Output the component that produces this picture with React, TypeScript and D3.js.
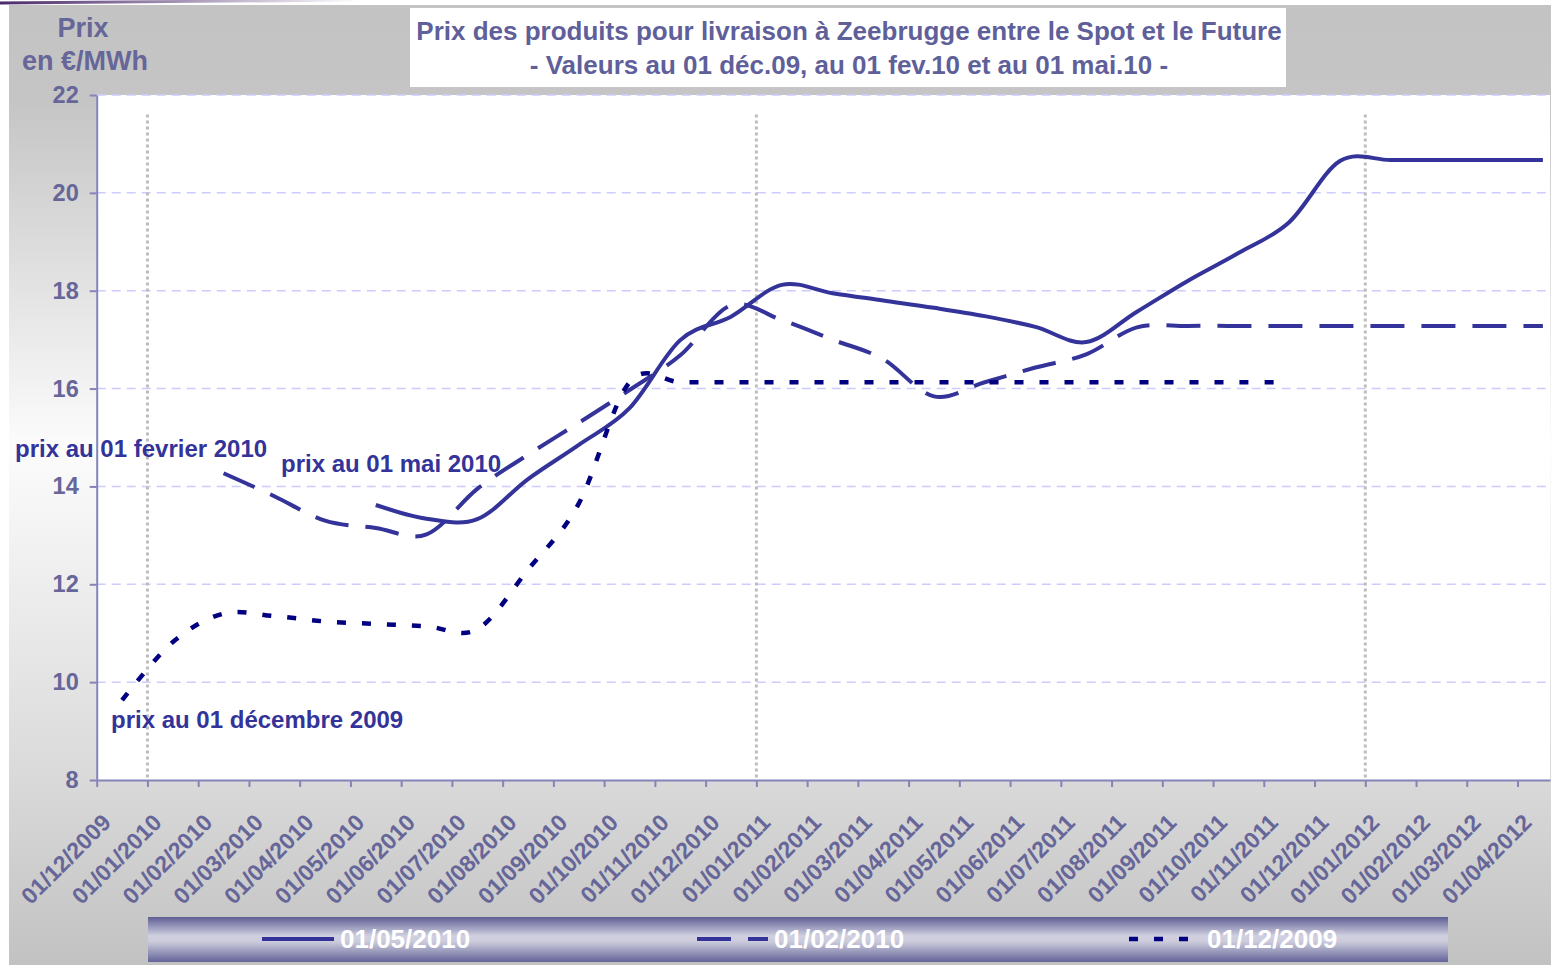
import * as d3 from "d3";
import { useEffect, useRef } from "react";

const W = 1551;
const H = 965;

// x axis categories (one per month)
const monthLabels = [
  "01/12/2009", "01/01/2010", "01/02/2010", "01/03/2010", "01/04/2010",
  "01/05/2010", "01/06/2010", "01/07/2010", "01/08/2010", "01/09/2010",
  "01/10/2010", "01/11/2010", "01/12/2010", "01/01/2011", "01/02/2011",
  "01/03/2011", "01/04/2011", "01/05/2011", "01/06/2011", "01/07/2011",
  "01/08/2011", "01/09/2011", "01/10/2011", "01/11/2011", "01/12/2011",
  "01/01/2012", "01/02/2012", "01/03/2012", "01/04/2012",
];
const yearMarks = ["01/01/2010", "01/01/2011", "01/01/2012"];
const yTicks = [8, 10, 12, 14, 16, 18, 20, 22];

// prices in €/MWh, one point per month, plotted at mid-month
const mai2010Start = 5.5;
const mai2010Values = [
  13.62, 13.34, 13.33, 14.15, 14.85, 15.6, 16.99, 17.47, 18.12, 17.95, 17.8, 17.65,
  17.48, 17.26, 16.95, 17.57, 18.2, 18.77, 19.4, 20.65, 20.67, 20.67, 20.67, 20.67,
];
const fev2010Start = 2.5;
const fev2010Values = [
  14.27, 13.8, 13.3, 13.15, 13.02, 13.95, 14.65, 15.3, 15.97, 16.68, 17.7, 17.4, 17.0,
  16.6, 15.84, 16.13, 16.43, 16.7, 17.25, 17.28, 17.28, 17.28, 17.28, 17.28, 17.28,
  17.28, 17.28,
];
const dec2009Start = 0.5;
const dec2009Values = [
  9.63, 10.82, 11.4, 11.35, 11.24, 11.19, 11.14, 11.08, 12.3, 13.65, 16.13, 16.13,
  16.13, 16.13, 16.13, 16.13, 16.13, 16.13, 16.13, 16.13, 16.13, 16.13, 16.13, 16.13,
];

const seriesNames = ["01/05/2010", "01/02/2010", "01/12/2009"];

const FONT = "'Liberation Sans', Arial, sans-serif";
const AXIS_TEXT = "#666699";
const LINE = "#333399";
const NAVY = "#000080";

const App = () => {
  const svgRef = useRef<SVGSVGElement>(null);

  useEffect(() => {
    const svg = d3.select(svgRef.current);
    svg.selectAll("*").remove();

    const x = d3
      .scaleLinear()
      .domain([0, monthLabels.length - 0.36])
      .range([96.7, 1550]);
    const y = d3.scaleLinear().domain([8, 22]).range([780, 95]);

    const defs = svg.append("defs");
    const bg = defs
      .append("linearGradient")
      .attr("id", "bg")
      .attr("x1", 0).attr("y1", 0).attr("x2", 0).attr("y2", 1);
    [
      [0, "#c3c3c3"],
      [0.1, "#c5c5c5"],
      [0.46, "#fcfcfc"],
      [0.8, "#dadada"],
      [1, "#c2c2c2"],
    ].forEach(([o, c]) => bg.append("stop").attr("offset", o).attr("stop-color", c));

    const lg = defs
      .append("linearGradient")
      .attr("id", "legendBg")
      .attr("x1", 0).attr("y1", 0).attr("x2", 0).attr("y2", 1);
    [
      [0, "#5e5e94"],
      [0.42, "#d0d0e1"],
      [0.55, "#cbcbdc"],
      [1, "#64649a"],
    ].forEach(([o, c]) => lg.append("stop").attr("offset", o).attr("stop-color", c));

    const deco = defs
      .append("linearGradient")
      .attr("id", "deco")
      .attr("x1", 0).attr("y1", 0).attr("x2", 1).attr("y2", 0);
    deco.append("stop").attr("offset", 0).attr("stop-color", "#4b2a6b");
    deco.append("stop").attr("offset", 1).attr("stop-color", "#4b2a6b").attr("stop-opacity", 0);

    // chart background
    svg.append("rect").attr("width", W).attr("height", H).attr("fill", "#fff");
    svg.append("path").attr("d", "M0,3 L360,0").attr("stroke", "url(#deco)").attr("stroke-width", 3);
    svg.append("rect")
      .attr("x", 9).attr("y", 5).attr("width", W - 9).attr("height", H - 5)
      .attr("fill", "url(#bg)");

    // plot area
    svg.append("rect")
      .attr("x", x(0)).attr("y", y(22))
      .attr("width", x.range()[1] - x(0)).attr("height", y(8) - y(22))
      .attr("fill", "#fff");

    // gridlines
    svg.append("g")
      .selectAll("line")
      .data(yTicks.filter((v) => v > 8))
      .join("line")
      .attr("x1", x(0)).attr("x2", x.range()[1])
      .attr("y1", (d) => y(d)).attr("y2", (d) => y(d))
      .attr("stroke", "#ccccff")
      .attr("stroke-width", 1.5)
      .attr("stroke-dasharray", "9 6");

    // year separators
    svg.append("g")
      .selectAll("line")
      .data(yearMarks)
      .join("line")
      .attr("x1", (d) => x(monthLabels.indexOf(d)))
      .attr("x2", (d) => x(monthLabels.indexOf(d)))
      .attr("y1", y(21.6)).attr("y2", y(8))
      .attr("stroke", "#bdbdbd")
      .attr("stroke-width", 3)
      .attr("stroke-dasharray", "3 3");

    // title box
    svg.append("rect")
      .attr("x", 410).attr("y", 8).attr("width", 876).attr("height", 79)
      .attr("fill", "#fff");
    const title = svg.append("text")
      .attr("font-family", FONT).attr("font-weight", "bold").attr("font-size", 26)
      .attr("fill", "#5f5f9a").attr("text-anchor", "middle");
    title.append("tspan").attr("x", 849).attr("y", 40)
      .text("Prix des produits pour livraison à Zeebrugge entre le Spot et le Future");
    title.append("tspan").attr("x", 849).attr("y", 74)
      .text("- Valeurs au 01 déc.09, au 01 fev.10 et au 01 mai.10 -");

    // y axis title
    const yt = svg.append("text")
      .attr("font-family", FONT).attr("font-weight", "bold").attr("font-size", 27)
      .attr("fill", AXIS_TEXT).attr("text-anchor", "middle");
    yt.append("tspan").attr("x", 83).attr("y", 37).text("Prix");
    yt.append("tspan").attr("x", 85).attr("y", 70).text("en €/MWh");

    // axes
    const yAxis = svg.append("g")
      .attr("transform", `translate(${x(0)},0)`)
      .call(d3.axisLeft(y).tickValues(yTicks).tickSize(7).tickSizeOuter(0).tickPadding(11));
    const xAxis = svg.append("g")
      .attr("transform", `translate(0,${y(8)})`)
      .call(
        d3.axisBottom(x)
          .tickValues(d3.range(monthLabels.length))
          .tickFormat((i) => monthLabels[i as number])
          .tickSize(7)
          .tickSizeOuter(0)
      );
    [yAxis, xAxis].forEach((g) => {
      g.select(".domain").attr("stroke", "#8484b8").attr("stroke-width", 2);
      g.selectAll(".tick line").attr("stroke", "#8484b8").attr("stroke-width", 2);
      g.selectAll("text")
        .attr("font-family", FONT).attr("font-weight", "bold")
        .attr("fill", AXIS_TEXT);
    });
    yAxis.selectAll("text").attr("font-size", 23.5);
    xAxis.selectAll("text")
      .attr("font-size", 23)
      .attr("text-anchor", "end")
      .attr("x", 15).attr("y", 44).attr("dy", 0)
      .attr("transform", "rotate(-45 15 44)");

    // series
    const lineFor = (start: number) =>
      d3.line<number>()
        .x((_, i) => x(start + i))
        .y((d) => y(d))
        .curve(d3.curveCardinal.tension(0));

    svg.append("path")
      .attr("d", lineFor(mai2010Start)(mai2010Values))
      .attr("fill", "none").attr("stroke", LINE).attr("stroke-width", 4);
    svg.append("path")
      .attr("d", lineFor(fev2010Start)(fev2010Values))
      .attr("fill", "none").attr("stroke", LINE).attr("stroke-width", 4)
      .attr("stroke-dasharray", "34 17");
    svg.append("path")
      .attr("d", lineFor(dec2009Start)(dec2009Values))
      .attr("fill", "none").attr("stroke", NAVY).attr("stroke-width", 4.5)
      .attr("stroke-dasharray", "9 16");

    // annotations
    const notes = [
      { t: "prix au 01 fevrier 2010", x: 15, y: 457 },
      { t: "prix au 01 mai 2010", x: 281, y: 472 },
      { t: "prix au 01 décembre 2009", x: 111, y: 728 },
    ];
    svg.append("g")
      .selectAll("text")
      .data(notes)
      .join("text")
      .attr("x", (d) => d.x).attr("y", (d) => d.y)
      .attr("font-family", FONT).attr("font-weight", "bold").attr("font-size", 24)
      .attr("fill", LINE)
      .text((d) => d.t);

    // legend
    svg.append("rect")
      .attr("x", 148).attr("y", 917).attr("width", 1300).attr("height", 45)
      .attr("fill", "url(#legendBg)");
    const legendItems = [
      { name: seriesNames[0], x0: 262, x1: 334, tx: 340, stroke: LINE, dash: null, w: 4 },
      { name: seriesNames[1], x0: 697, x1: 768, tx: 774, stroke: LINE, dash: "34 17", w: 4 },
      { name: seriesNames[2], x0: 1129, x1: 1190, tx: 1207, stroke: NAVY, dash: "9 16", w: 4.5 },
    ];
    const li = svg.append("g").selectAll("g").data(legendItems).join("g");
    li.append("line")
      .attr("x1", (d) => d.x0).attr("x2", (d) => d.x1)
      .attr("y1", 939).attr("y2", 939)
      .attr("stroke", (d) => d.stroke).attr("stroke-width", (d) => d.w)
      .attr("stroke-dasharray", (d) => d.dash);
    li.append("text")
      .attr("x", (d) => d.tx).attr("y", 948)
      .attr("font-family", FONT).attr("font-weight", "bold").attr("font-size", 26)
      .attr("fill", "#fff")
      .text((d) => d.name);
  }, []);

  return (
    <svg
      ref={svgRef}
      width={W}
      height={H}
      style={{ position: "absolute", left: 0, top: 0, display: "block" }}
    />
  );
};

export default App;
